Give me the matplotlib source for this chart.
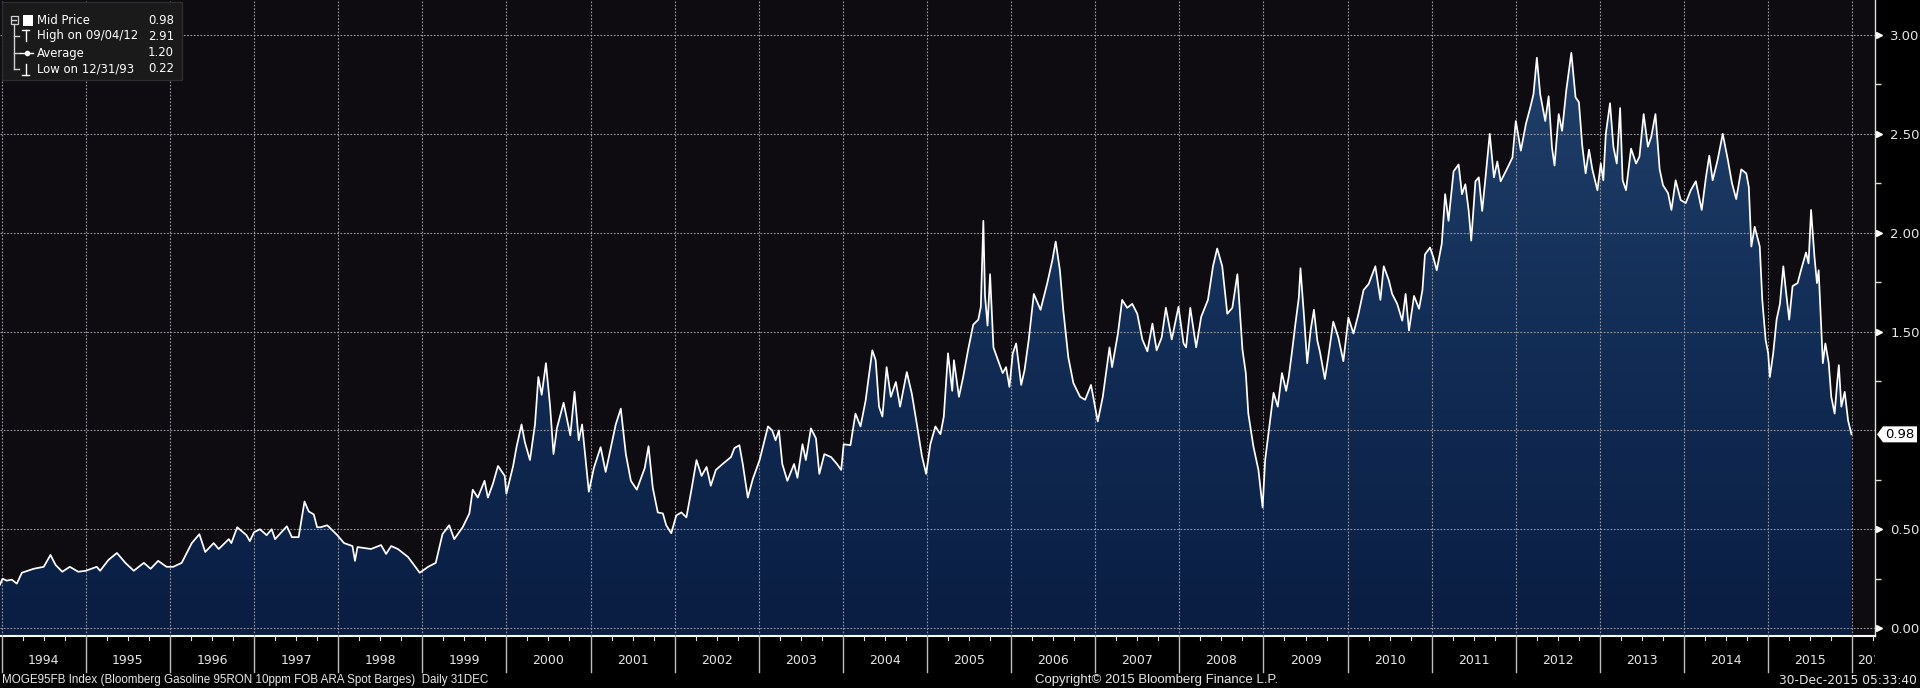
import numpy as np
import matplotlib
matplotlib.use("Agg")
import matplotlib.pyplot as plt
from matplotlib.patches import Rectangle, Polygon, PathPatch
from matplotlib.lines import Line2D
from matplotlib.colors import LinearSegmentedColormap
from matplotlib.transforms import ScaledTranslation, IdentityTransform

plt.rcParams['font.family'] = ['DejaVu Sans']

# MOGE95FB mid price, (decimal year, price)
seg_1994_1997 = [
    (1993.98, 0.22), (1994.01, 0.25), (1994.06, 0.24), (1994.12, 0.245), (1994.18, 0.225),
    (1994.24, 0.28), (1994.38, 0.30), (1994.50, 0.31), (1994.58, 0.37), (1994.64, 0.32),
    (1994.72, 0.285), (1994.81, 0.31), (1994.91, 0.285), (1995.00, 0.29), (1995.13, 0.31),
    (1995.17, 0.29), (1995.27, 0.345), (1995.37, 0.38), (1995.47, 0.33), (1995.57, 0.29),
    (1995.69, 0.33), (1995.77, 0.30), (1995.86, 0.34), (1995.96, 0.31), (1996.04, 0.31),
    (1996.14, 0.33), (1996.26, 0.43), (1996.35, 0.475), (1996.42, 0.385), (1996.52, 0.43),
    (1996.58, 0.40), (1996.70, 0.45), (1996.73, 0.43), (1996.80, 0.51), (1996.91, 0.47),
    (1996.95, 0.44), (1997.00, 0.485), (1997.07, 0.50), (1997.15, 0.47), (1997.21, 0.50),
    (1997.25, 0.45), (1997.39, 0.515), (1997.45, 0.46), (1997.53, 0.46), (1997.60, 0.64),
    (1997.65, 0.59), (1997.71, 0.575), (1997.75, 0.51),
]
seg_1998_2001 = [
    (1997.79, 0.51), (1997.87, 0.52), (1997.99, 0.47), (1998.07, 0.43), (1998.17, 0.415),
    (1998.20, 0.34), (1998.23, 0.41), (1998.39, 0.40), (1998.51, 0.42), (1998.57, 0.375),
    (1998.63, 0.415), (1998.71, 0.40), (1998.83, 0.36), (1998.97, 0.28), (1999.07, 0.31),
    (1999.16, 0.33), (1999.24, 0.475), (1999.32, 0.52), (1999.38, 0.45), (1999.48, 0.51),
    (1999.56, 0.58), (1999.60, 0.70), (1999.66, 0.66), (1999.74, 0.745), (1999.78, 0.66),
    (1999.84, 0.73), (1999.90, 0.82), (1999.98, 0.77), (2000.00, 0.68), (2000.08, 0.82),
    (2000.12, 0.915), (2000.18, 1.03), (2000.22, 0.94), (2000.28, 0.85), (2000.34, 1.03),
    (2000.38, 1.27), (2000.42, 1.18), (2000.47, 1.34), (2000.52, 1.12), (2000.56, 0.88),
    (2000.60, 1.01), (2000.68, 1.14), (2000.76, 0.975), (2000.81, 1.195), (2000.86, 0.95),
    (2000.90, 1.03), (2000.98, 0.69), (2001.04, 0.81), (2001.12, 0.915), (2001.18, 0.79),
    (2001.30, 1.03), (2001.36, 1.11), (2001.42, 0.88), (2001.48, 0.745), (2001.55, 0.70),
]
seg_2002_2005 = [
    (2001.645, 0.81), (2001.69, 0.92), (2001.74, 0.71), (2001.80, 0.585), (2001.86, 0.58),
    (2001.90, 0.52), (2001.96, 0.48), (2002.02, 0.57), (2002.08, 0.585), (2002.14, 0.56),
    (2002.20, 0.70), (2002.26, 0.85), (2002.32, 0.77), (2002.38, 0.815), (2002.43, 0.72),
    (2002.49, 0.80), (2002.57, 0.83), (2002.67, 0.865), (2002.71, 0.91), (2002.77, 0.925),
    (2002.81, 0.83), (2002.87, 0.66), (2002.93, 0.755), (2003.01, 0.85), (2003.11, 1.02),
    (2003.16, 1.00), (2003.20, 0.95), (2003.24, 1.00), (2003.28, 0.83), (2003.34, 0.745),
    (2003.42, 0.83), (2003.46, 0.76), (2003.52, 0.93), (2003.56, 0.85), (2003.62, 1.01),
    (2003.68, 0.96), (2003.72, 0.78), (2003.78, 0.88), (2003.86, 0.865), (2003.93, 0.83),
    (2003.98, 0.80), (2004.01, 0.93), (2004.09, 0.925), (2004.15, 1.085), (2004.21, 1.02),
    (2004.27, 1.15), (2004.35, 1.405), (2004.39, 1.355), (2004.43, 1.12), (2004.47, 1.07),
    (2004.52, 1.32), (2004.57, 1.17), (2004.63, 1.245), (2004.68, 1.12), (2004.76, 1.295),
    (2004.82, 1.185), (2004.88, 1.03), (2004.94, 0.87), (2004.99, 0.78), (2005.04, 0.93),
    (2005.10, 1.02), (2005.16, 0.98), (2005.20, 1.07), (2005.25, 1.39), (2005.30, 1.20),
    (2005.32, 1.355), (2005.38, 1.17), (2005.43, 1.27),
]
seg_2006_2009 = [
    (2005.49, 1.41), (2005.55, 1.535), (2005.61, 1.56), (2005.64, 1.625), (2005.67, 2.06),
    (2005.69, 1.68), (2005.72, 1.53), (2005.75, 1.79), (2005.79, 1.42), (2005.84, 1.36),
    (2005.90, 1.29), (2005.94, 1.32), (2005.98, 1.22), (2006.02, 1.39), (2006.06, 1.44),
    (2006.12, 1.23), (2006.16, 1.305), (2006.21, 1.46), (2006.27, 1.69), (2006.35, 1.61),
    (2006.43, 1.745), (2006.49, 1.86), (2006.53, 1.955), (2006.58, 1.81), (2006.62, 1.61),
    (2006.68, 1.37), (2006.74, 1.24), (2006.82, 1.17), (2006.88, 1.155), (2006.95, 1.23),
    (2007.03, 1.045), (2007.09, 1.17), (2007.17, 1.42), (2007.20, 1.32), (2007.27, 1.49),
    (2007.32, 1.66), (2007.38, 1.62), (2007.44, 1.64), (2007.50, 1.59), (2007.56, 1.46),
    (2007.62, 1.40), (2007.68, 1.54), (2007.73, 1.405), (2007.79, 1.47), (2007.84, 1.62),
    (2007.91, 1.46), (2007.99, 1.625), (2008.05, 1.44), (2008.08, 1.42), (2008.13, 1.62),
    (2008.20, 1.42), (2008.26, 1.575), (2008.34, 1.66), (2008.40, 1.83), (2008.45, 1.92),
    (2008.51, 1.83), (2008.57, 1.59), (2008.63, 1.62), (2008.69, 1.79), (2008.75, 1.41),
    (2008.79, 1.29), (2008.82, 1.085), (2008.88, 0.92), (2008.94, 0.80), (2008.99, 0.61),
    (2009.02, 0.85), (2009.06, 0.985), (2009.12, 1.19), (2009.17, 1.12),
]
seg_2010_2012 = [
    (2009.22, 1.29), (2009.27, 1.20), (2009.30, 1.27), (2009.34, 1.40), (2009.38, 1.54),
    (2009.42, 1.67), (2009.44, 1.82), (2009.48, 1.59), (2009.52, 1.34), (2009.56, 1.505),
    (2009.60, 1.61), (2009.64, 1.455), (2009.67, 1.40), (2009.73, 1.26), (2009.77, 1.37),
    (2009.83, 1.55), (2009.89, 1.47), (2009.95, 1.35), (2010.01, 1.57), (2010.07, 1.49),
    (2010.13, 1.59), (2010.19, 1.71), (2010.25, 1.74), (2010.33, 1.83), (2010.39, 1.66),
    (2010.43, 1.83), (2010.49, 1.76), (2010.53, 1.69), (2010.59, 1.64), (2010.65, 1.555),
    (2010.69, 1.69), (2010.73, 1.505), (2010.79, 1.68), (2010.85, 1.615), (2010.89, 1.71),
    (2010.92, 1.89), (2010.98, 1.925), (2011.02, 1.875), (2011.06, 1.81), (2011.12, 1.945),
    (2011.16, 2.195), (2011.20, 2.06), (2011.26, 2.31), (2011.32, 2.345), (2011.36, 2.195),
    (2011.40, 2.245), (2011.44, 2.11), (2011.47, 1.96), (2011.52, 2.26), (2011.56, 2.28),
    (2011.60, 2.11), (2011.64, 2.28), (2011.69, 2.50), (2011.74, 2.28), (2011.78, 2.36),
    (2011.82, 2.26), (2011.88, 2.31), (2011.96, 2.38), (2012.00, 2.565), (2012.06, 2.415),
    (2012.12, 2.55), (2012.17, 2.63), (2012.21, 2.70), (2012.25, 2.885), (2012.29, 2.70),
    (2012.35, 2.565), (2012.39, 2.69), (2012.43, 2.43), (2012.46, 2.34), (2012.51, 2.60),
    (2012.55, 2.515), (2012.60, 2.72), (2012.66, 2.91), (2012.71, 2.685),
]
seg_2013_2015 = [
    (2012.75, 2.66), (2012.79, 2.44), (2012.83, 2.30), (2012.87, 2.42), (2012.91, 2.32),
    (2012.97, 2.215), (2013.01, 2.35), (2013.04, 2.265), (2013.07, 2.50), (2013.12, 2.655),
    (2013.16, 2.435), (2013.20, 2.35), (2013.24, 2.63), (2013.27, 2.265), (2013.31, 2.215),
    (2013.37, 2.425), (2013.43, 2.35), (2013.47, 2.385), (2013.52, 2.60), (2013.57, 2.435),
    (2013.61, 2.485), (2013.66, 2.60), (2013.71, 2.32), (2013.75, 2.24), (2013.81, 2.20),
    (2013.85, 2.115), (2013.90, 2.265), (2013.96, 2.165), (2014.02, 2.15), (2014.08, 2.215),
    (2014.14, 2.26), (2014.21, 2.115), (2014.26, 2.28), (2014.30, 2.39), (2014.34, 2.265),
    (2014.40, 2.37), (2014.46, 2.50), (2014.52, 2.37), (2014.57, 2.25), (2014.62, 2.17),
    (2014.68, 2.32), (2014.74, 2.30), (2014.77, 2.23), (2014.80, 1.93), (2014.84, 2.03),
    (2014.90, 1.93), (2014.93, 1.66), (2014.97, 1.457), (2015.00, 1.39), (2015.02, 1.27),
    (2015.06, 1.39), (2015.10, 1.56), (2015.14, 1.64), (2015.18, 1.83), (2015.21, 1.71),
    (2015.25, 1.56), (2015.29, 1.73), (2015.35, 1.745), (2015.39, 1.81), (2015.45, 1.90),
    (2015.48, 1.845), (2015.51, 2.115), (2015.55, 1.88), (2015.58, 1.745), (2015.60, 1.81),
    (2015.65, 1.34), (2015.68, 1.44), (2015.72, 1.34), (2015.75, 1.17), (2015.79, 1.085),
    (2015.82, 1.24), (2015.84, 1.33), (2015.87, 1.12), (2015.91, 1.195), (2015.95, 1.05),
    (2015.99, 0.98),
]

years = list(range(1994, 2017))
ytick_vals = [0.0, 0.5, 1.0, 1.5, 2.0, 2.5, 3.0]
yminor_vals = [0.25, 0.75, 1.25, 1.75, 2.25, 2.75]
last_price = 0.98
legend_rows = [("Mid Price", "0.98"), ("High on 09/04/12", "2.91"),
               ("Average", "1.20"), ("Low on 12/31/93", "0.22")]
footer_left = "MOGE95FB Index (Bloomberg Gasoline 95RON 10ppm FOB ARA Spot Barges)  Daily 31DEC"
footer_mid = "Copyright\u00a9 2015 Bloomberg Finance L.P."
footer_right = "30-Dec-2015 05:33:40"

W, H = 1920, 688
XMIN, XMAX = 1993.98, 2016.27
YMIN, YMAX = -0.04, 3.177
GRID = '#9a9aa2'
TXT = '#e6e6e6'
NARROW = ['Liberation Sans', 'DejaVu Sans']

fig = plt.figure(figsize=(W / 100, H / 100), dpi=100, facecolor='black')
ax = fig.add_axes([0, 52 / H, 1875 / W, 636 / H])
ax.set_facecolor('#0e0b11')

pts = seg_1994_1997 + seg_1998_2001 + seg_2002_2005 + seg_2006_2009 + seg_2010_2012 + seg_2013_2015
t = np.array([p[0] for p in pts])
v = np.array([p[1] for p in pts])

# gradient area under the price line
fill = ax.fill_between(t, v, YMIN, facecolor='none', edgecolor='none')
clip = PathPatch(fill.get_paths()[0], transform=ax.transData, facecolor='none', edgecolor='none')
ax.add_patch(clip)
cmap = LinearSegmentedColormap.from_list('bbg', ['#0a1d42', '#122d56', '#21416b'])
grad = np.linspace(0, 1, 256).reshape(-1, 1)
im = ax.imshow(grad, extent=[XMIN, XMAX, YMIN, 3.0], origin='lower', aspect='auto',
               cmap=cmap, zorder=2)
im.set_clip_path(clip)

for y in ytick_vals:
    ax.axhline(y, color=GRID, lw=0.8, ls=(0, (1.5, 1.5)), zorder=3)
for yr in years:
    ax.axvline(yr, color=GRID, lw=0.8, ls=(0, (1.5, 1.5)), zorder=3)

ax.plot(t, v, color='white', lw=1.25, zorder=5)

ax.set_xlim(XMIN, XMAX)
ax.set_ylim(YMIN, YMAX)
ax.set_xticks([])
for s in ('top', 'left'):
    ax.spines[s].set_visible(False)
ax.spines['bottom'].set_color('white')
ax.spines['bottom'].set_linewidth(1.5)
ax.spines['right'].set_color('#dddddd')
ax.spines['right'].set_linewidth(1.0)

# right price axis, the label under the last-price flag is hidden
ax.yaxis.tick_right()
shown = [y for y in ytick_vals if abs(y - last_price) > 0.1]
ax.set_yticks(ytick_vals, [f"{y:.2f}" if y in shown else "" for y in ytick_vals])
ax.set_yticks(yminor_vals, minor=True)
ax.tick_params(axis='y', which='major', length=0, pad=11, labelcolor=TXT, labelsize=9.5)
ax.tick_params(axis='y', which='minor', length=4, width=1, color='#dddddd', direction='out')
tri = ax.get_yaxis_transform() + ScaledTranslation(4 / 100, 0, fig.dpi_scale_trans)
ax.plot([1.0] * len(shown), shown, ls='none', marker='>', ms=5, color='white',
        transform=tri, clip_on=False)

# last price flag
x0 = ax.transAxes.transform((1, 0))[0]
yc = ax.transData.transform((XMIN, last_price))[1]
flag = Polygon([(x0 + 2, yc), (x0 + 8, yc + 8), (x0 + 42, yc + 8),
                (x0 + 42, yc - 8), (x0 + 8, yc - 8)], closed=True,
               transform=IdentityTransform(), facecolor='white', edgecolor='none', zorder=6)
fig.add_artist(flag)
fig.text(x0 + 10, yc, f"{last_price:.2f}", transform=IdentityTransform(), color='black',
         fontsize=9.5, va='center', ha='left', zorder=7)

# date strip under the chart
axs = fig.add_axes([0, 0, 1875 / W, 52 / H])
axs.set_xlim(XMIN, XMAX)
axs.set_ylim(0, 52)
axs.axis('off')
for yr in years:
    axs.plot([yr, yr], [52, 16], color='#bdbdbd', lw=1)
    for q in (0.25, 0.5, 0.75):
        axs.plot([yr + q] * 2, [52, 48], color='#dddddd', lw=0.8)
    if yr + 1 <= XMAX:
        axs.text(yr + 0.5, 27, str(yr), ha='center', va='center', color=TXT, fontsize=9,
                 clip_on=True)
    else:
        axs.text(yr + 0.06, 27, str(yr), ha='left', va='center', color=TXT, fontsize=9,
                 clip_on=True)

fig.text(2 / W, 8 / H, footer_left, ha='left', va='center', color=TXT, fontsize=8.4,
         family=NARROW)
fig.text(1157 / W, 8 / H, footer_mid, ha='center', va='center', color=TXT, fontsize=9.5,
         family=NARROW)
fig.text(1917 / W, 8 / H, footer_right, ha='right', va='center', color=TXT, fontsize=8.8)

# legend box, top left
def P(x, y):
    return x / W, 1 - y / H

def seg(x1, y1, x2, y2, c='#d0d0d0', lw=1.0):
    a, b = P(x1, y1)
    cc, d = P(x2, y2)
    fig.add_artist(Line2D([a, cc], [b, d], color=c, lw=lw, transform=fig.transFigure, zorder=11))

bx, by = P(2, 80)
fig.add_artist(Rectangle((bx, by), 180 / W, 78 / H, transform=fig.transFigure,
                         facecolor='#1a1a1a', edgecolor='#2e2e2e', lw=1, zorder=10))
rows_y = [20, 36, 53, 69]
# tree
seg(14, 24, 14, 69)
for ry in rows_y[1:]:
    seg(14, ry, 19, ry)
ex, ey = P(10.5, 23.5)
fig.add_artist(Rectangle((ex, ey), 7 / W, 7 / H, transform=fig.transFigure,
                         facecolor='none', edgecolor='#d0d0d0', lw=0.9, zorder=11))
seg(12, 20, 16, 20)
sx, sy = P(23, 26)
fig.add_artist(Rectangle((sx, sy), 10 / W, 11 / H, transform=fig.transFigure,
                         facecolor='white', edgecolor='none', zorder=11))
seg(22, 30, 29, 30, c='white')
seg(25.5, 30, 25.5, 41, c='white')
seg(20, 53, 33, 53, c='white')
dx, dy = P(26.5, 53)
fig.add_artist(Line2D([dx], [dy], marker='o', ms=3, color='white', transform=fig.transFigure, zorder=12))
seg(25.5, 64, 25.5, 75, c='white')
seg(22, 75, 29, 75, c='white')
for (label, val), ry in zip(legend_rows, rows_y):
    fig.text(*P(37, ry), label, ha='left', va='center', color='white', fontsize=8.4, zorder=12)
    fig.text(*P(174, ry), val, ha='right', va='center', color='white', fontsize=8.4, zorder=12)

fig.savefig('out.png', dpi=100, facecolor='black')
